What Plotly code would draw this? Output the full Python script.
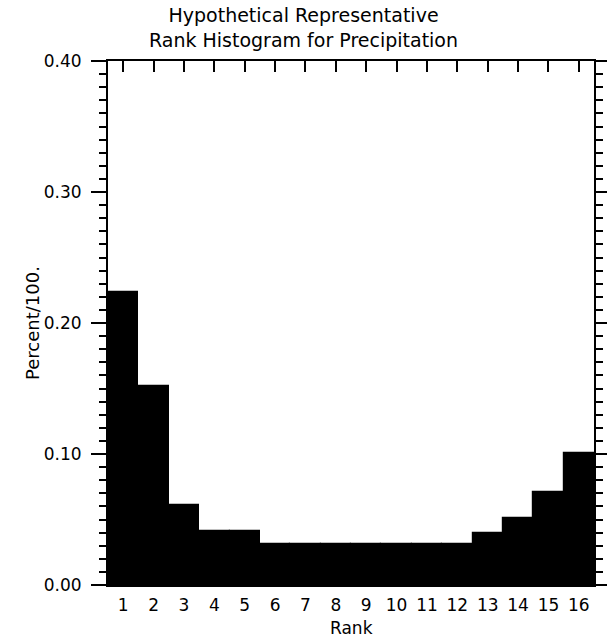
import plotly.graph_objects as go

ranks = list(range(1, 17))
freq = [0.224, 0.152, 0.061, 0.041, 0.041, 0.031, 0.031, 0.031,
        0.031, 0.031, 0.031, 0.031, 0.040, 0.051, 0.071, 0.101]
ytick_vals = [0.0, 0.1, 0.2, 0.3, 0.4]
ytick_text = ["0.00", "0.10", "0.20", "0.30", "0.40"]

FONT = "DejaVu Sans"
L, R, T, B = 108, 13, 61, 53
W, H = 607, 638
PW = W - L - R

fig = go.Figure()
fig.add_trace(go.Bar(
    x=ranks, y=freq, width=1.0,
    marker=dict(color="black", line=dict(color="black", width=1.2)),
    showlegend=False,
))

fig.update_layout(
    width=W, height=H,
    margin=dict(l=L, r=R, t=T, b=B, autoexpand=False),
    paper_bgcolor="white", plot_bgcolor="white",
    bargap=0,
    font=dict(family=FONT, color="black", size=17),
    xaxis=dict(
        range=[0.5, 16.5], tickvals=ranks, ticktext=[str(r) for r in ranks],
        ticks="inside", ticklen=11, tickwidth=1.5, tickcolor="black",
        showline=True, linecolor="black", linewidth=2, mirror="ticks",
        showgrid=False, zeroline=False, automargin=False,
        tickfont=dict(size=17), ticklabelstandoff=4,
    ),
    yaxis=dict(
        range=[0, 0.4], tickvals=ytick_vals, ticktext=ytick_text,
        ticks="outside", ticklen=15, tickwidth=1.5, tickcolor="black",
        showline=True, linecolor="black", linewidth=2, mirror="ticks",
        showgrid=False, zeroline=False, automargin=False,
        minor=dict(dtick=0.01, ticks="outside", ticklen=7, tickwidth=1.5,
                   tickcolor="black", showgrid=False),
        tickfont=dict(size=17), ticklabelstandoff=6,
    ),
    annotations=[
        dict(text="Hypothetical Representative<br>Rank Histogram for Precipitation",
             xref="paper", yref="paper", x=(W / 2 - L) / PW, y=1,
             xanchor="center", yanchor="bottom", yshift=8, showarrow=False,
             font=dict(family=FONT, size=19, color="black")),
        dict(text="Percent/100.", textangle=-90,
             xref="paper", yref="paper", x=0, y=0.5, xshift=-76,
             xanchor="center", yanchor="middle", showarrow=False,
             font=dict(family=FONT, size=18, color="black")),
        dict(text="Rank",
             xref="paper", yref="paper", x=0.5, y=0, yshift=-43,
             xanchor="center", yanchor="middle", showarrow=False,
             font=dict(family=FONT, size=17, color="black")),
    ],
)

fig.write_html("out.html")
